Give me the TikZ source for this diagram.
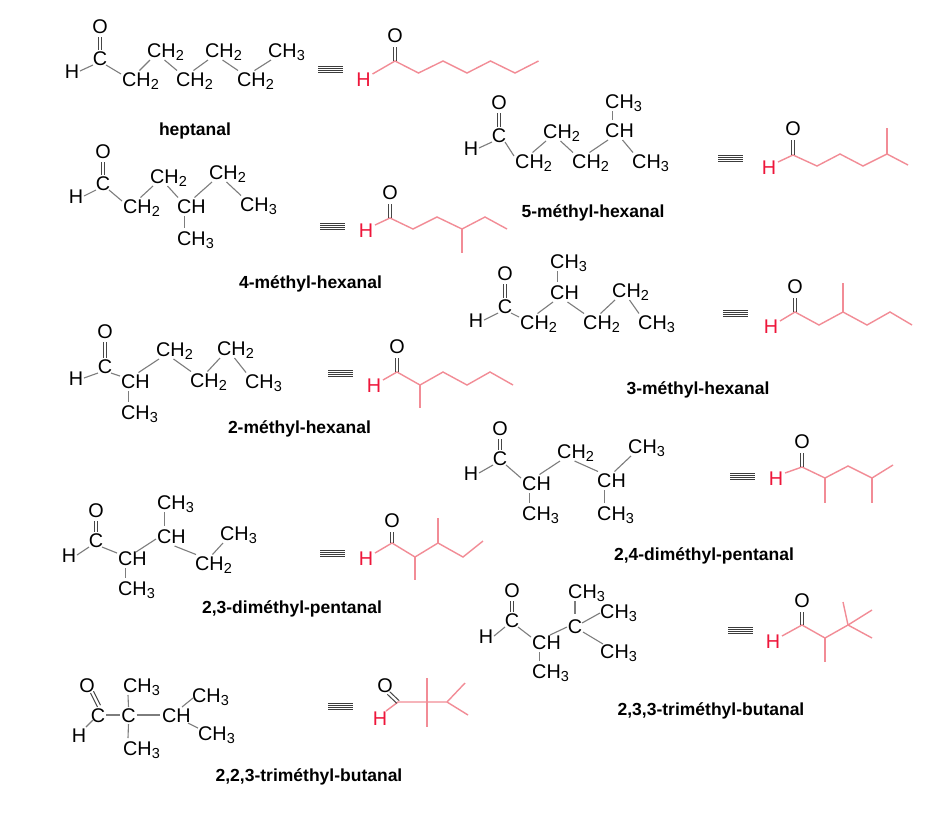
\documentclass[tikz,border=0pt]{standalone}
\usepackage{fontspec}
\setmainfont{Liberation Sans}
\usetikzlibrary{calc}
\definecolor{bondgray}{RGB}{125,125,125}
\definecolor{dblgray}{RGB}{70,70,70}
\definecolor{skelred}{RGB}{242,140,150}
\definecolor{hredc}{RGB}{238,22,58}
\definecolor{eqgray}{RGB}{60,60,60}
\newcommand\chsub[1]{\raisebox{-3.5pt}{\fontsize{14.5}{14.5}\selectfont #1}}
\newcommand\CHii{CH\chsub{2}}
\newcommand\CHiii{CH\chsub{3}}
\newcommand\chemfont{\fontsize{19.8}{21}\selectfont}
\newcommand\namefont{\fontsize{17.5}{20}\selectfont\bfseries}
\tikzset{
  bond/.style={draw=bondgray, line width=1.1pt},
  dbl/.style={draw=dblgray, line width=1pt},
  skel/.style={draw=skelred, line width=1.4pt, line join=miter},
  eqline/.style={draw=eqgray, line width=0.9pt},
  atom/.style={inner sep=0pt, anchor=base, font=\chemfont},
  lbl/.style={inner sep=0pt, anchor=base west, font=\chemfont},
  redH/.style={inner sep=0pt, anchor=base, font=\chemfont, text=hredc},
  cname/.style={inner sep=0pt, anchor=base, font=\namefont},
}
\newcommand\bnd[6]{\draw[bond] ($(#1)+(#2,#3)$) -- ($(#4)+(#5,#6)$);}
\newcommand\bup[2]{\bnd{#1.base west}{17.5}{-15.5}{#2.base west}{3}{3}}
\newcommand\bdn[2]{\bnd{#1.base west}{17.5}{3}{#2.base west}{1}{-15.5}}
\newcommand\bvd[2]{\bnd{#1.base west}{7.3}{3}{#2.base west}{7.3}{-17}}
\newcommand\bca[2]{\bnd{#1.base}{6}{0}{#2.base west}{-1}{-12}}
\newcommand\aldehyde[6]{%
  \node[atom] (#1O) at (#2,#3) {O};
  \node[atom] (#1C) at (#2,#4) {C};
  \node[atom] (#1H) at (#5,#6) {H};
  \draw[dbl] ($(#1O.base)+(-1.8,4)$) -- ($(#1C.base)+(-1.8,-15.5)$);
  \draw[dbl] ($(#1O.base)+(1.8,4)$) -- ($(#1C.base)+(1.8,-15.5)$);
  \bnd{#1H.base}{8}{-7}{#1C.base}{-7}{0}}
\newcommand\skdbl[2]{%
  \draw[dbl] ($(#1.base)+(-1.8,5)$) -- ($(#2)+(-1.8,0)$);
  \draw[dbl] ($(#1.base)+(1.8,5)$) -- ($(#2)+(1.8,0)$);}
\newcommand\eqv[2]{\foreach \k in {0,1,2,3} {\draw[eqline] (#1,#2+\k*2.25) -- ++(25,0);}}
\begin{document}
\begin{tikzpicture}[x=1pt,y=-1pt]
\fill[white] (0,0) rectangle (945,815);
\useasboundingbox (0,0) rectangle (945,815);

% ---------- 1 heptanal
\aldehyde{a}{100}{33}{65}{72}{78}
\node[lbl] (a1) at (122,86) {\CHii};
\node[lbl] (a2) at (147,57) {\CHii};
\node[lbl] (a3) at (176,86) {\CHii};
\node[lbl] (a4) at (205,57) {\CHii};
\node[lbl] (a5) at (237,86) {\CHii};
\node[lbl] (a6) at (268,57) {\CHiii};
\bca{aC}{a1}\bup{a1}{a2}\bdn{a2}{a3}\bup{a3}{a4}\bdn{a4}{a5}\bup{a5}{a6}
\eqv{318}{66}
\node[redH] (s1H) at (363.5,86) {H};
\node[atom] (s1O) at (395,42) {O};
\coordinate (s1a) at (395,61); \coordinate (s1b) at (418.5,73);
\coordinate (s1c) at (443,61); \coordinate (s1d) at (467,73);
\coordinate (s1e) at (490.5,61); \coordinate (s1f) at (515,73);
\coordinate (s1g) at (538.5,61);
\draw[skel] ($(s1H.base)+(9,-12)$) -- (s1a) -- (s1b) -- (s1c) -- (s1d) -- (s1e) -- (s1f) -- (s1g);
\skdbl{s1O}{s1a}
\node[cname] (n1) at (195,135) {heptanal};

% ---------- 2 4-methyl-hexanal
\aldehyde{b}{103}{158}{190}{76}{203}
\node[lbl] (b1) at (123,213) {\CHii};
\node[lbl] (b2) at (150,183) {\CHii};
\node[lbl] (b3) at (177,213) {CH};
\node[lbl] (b4) at (177,245) {\CHiii};
\node[lbl] (b5) at (209,179) {\CHii};
\node[lbl] (b6) at (240,211) {\CHiii};
\bca{bC}{b1}\bup{b1}{b2}\bdn{b2}{b3}\bvd{b3}{b4}\bup{b3}{b5}\bdn{b5}{b6}
\eqv{320}{223}
\node[redH] (s2H) at (366,237) {H};
\node[atom] (s2O) at (390,199) {O};
\coordinate (s2a) at (390,218); \coordinate (s2b) at (413,229);
\coordinate (s2c) at (437,217); \coordinate (s2d) at (462,229);
\coordinate (s2e) at (485,217); \coordinate (s2f) at (507,229);
\coordinate (s2m) at (462,253);
\draw[skel] ($(s2H.base)+(9,-12)$) -- (s2a) -- (s2b) -- (s2c) -- (s2d) -- (s2e) -- (s2f);
\draw[skel] (s2d) -- (s2m);
\skdbl{s2O}{s2a}
\node[cname] (n2) at (310.5,288) {4-méthyl-hexanal};

% ---------- 3 5-methyl-hexanal
\aldehyde{c}{499}{109}{142}{471}{155}
\node[lbl] (c1) at (515,168) {\CHii};
\node[lbl] (c2) at (543,138) {\CHii};
\node[lbl] (c3) at (572,168) {\CHii};
\node[lbl] (c4) at (605,137) {CH};
\node[lbl] (c5) at (605,108) {\CHiii};
\node[lbl] (c6) at (632,168) {\CHiii};
\bca{cC}{c1}\bup{c1}{c2}\bdn{c2}{c3}\bup{c3}{c4}\bvd{c5}{c4}\bdn{c4}{c6}
\eqv{718}{155}
\node[redH] (s3H) at (769,174) {H};
\node[atom] (s3O) at (793,135) {O};
\coordinate (s3a) at (793,155); \coordinate (s3b) at (817,166);
\coordinate (s3c) at (840,154); \coordinate (s3d) at (863,166);
\coordinate (s3e) at (887,154); \coordinate (s3f) at (908,165);
\coordinate (s3m) at (887,128);
\draw[skel] ($(s3H.base)+(9,-12)$) -- (s3a) -- (s3b) -- (s3c) -- (s3d) -- (s3e) -- (s3f);
\draw[skel] (s3e) -- (s3m);
\skdbl{s3O}{s3a}
\node[cname] (n3) at (593,217) {5-méthyl-hexanal};

% ---------- 4 3-methyl-hexanal
\aldehyde{d}{505}{280}{313}{476}{327}
\node[lbl] (d1) at (520,329) {\CHii};
\node[lbl] (d2) at (550,299) {CH};
\node[lbl] (d3) at (550,268) {\CHiii};
\node[lbl] (d4) at (583,329) {\CHii};
\node[lbl] (d5) at (612,297) {\CHii};
\node[lbl] (d6) at (638,329) {\CHiii};
\bca{dC}{d1}\bup{d1}{d2}\bvd{d3}{d2}\bdn{d2}{d4}\bup{d4}{d5}\bdn{d5}{d6}
\eqv{723}{310}
\node[redH] (s4H) at (771,333) {H};
\node[atom] (s4O) at (795,293) {O};
\coordinate (s4a) at (795,312); \coordinate (s4b) at (819,325);
\coordinate (s4c) at (843,312); \coordinate (s4d) at (867,325);
\coordinate (s4e) at (890,312); \coordinate (s4f) at (912,325);
\coordinate (s4m) at (843,283);
\draw[skel] ($(s4H.base)+(9,-12)$) -- (s4a) -- (s4b) -- (s4c) -- (s4d) -- (s4e) -- (s4f);
\draw[skel] (s4c) -- (s4m);
\skdbl{s4O}{s4a}
\node[cname] (n4) at (698,394) {3-méthyl-hexanal};

% ---------- 5 2-methyl-hexanal
\aldehyde{e}{105}{338}{373}{76}{385}
\node[lbl] (e1) at (121,388) {CH};
\node[lbl] (e2) at (121,419) {\CHiii};
\node[lbl] (e3) at (156,356) {\CHii};
\node[lbl] (e4) at (190,387) {\CHii};
\node[lbl] (e5) at (217,355) {\CHii};
\node[lbl] (e6) at (245,388) {\CHiii};
\bca{eC}{e1}\bvd{e1}{e2}\bup{e1}{e3}\bdn{e3}{e4}\bup{e4}{e5}\bdn{e5}{e6}
\eqv{328}{370}
\node[redH] (s5H) at (374,392) {H};
\node[atom] (s5O) at (397,353) {O};
\coordinate (s5a) at (397,372); \coordinate (s5b) at (420,385);
\coordinate (s5c) at (443,372); \coordinate (s5d) at (467,385);
\coordinate (s5e) at (490,372); \coordinate (s5f) at (513,385);
\coordinate (s5m) at (420,408);
\draw[skel] ($(s5H.base)+(9,-12)$) -- (s5a) -- (s5b) -- (s5c) -- (s5d) -- (s5e) -- (s5f);
\draw[skel] (s5b) -- (s5m);
\skdbl{s5O}{s5a}
\node[cname] (n5) at (299.5,433) {2-méthyl-hexanal};

% ---------- 6 2,4-dimethyl-pentanal
\aldehyde{f}{500}{435}{465}{471}{480}
\node[lbl] (f1) at (522,490) {CH};
\node[lbl] (f2) at (522,520) {\CHiii};
\node[lbl] (f3) at (557,458) {\CHii};
\node[lbl] (f4) at (597,487) {CH};
\node[lbl] (f5) at (597,520) {\CHiii};
\node[lbl] (f6) at (628,453) {\CHiii};
\bca{fC}{f1}\bvd{f1}{f2}\bup{f1}{f3}\bdn{f3}{f4}\bvd{f4}{f5}\bup{f4}{f6}
\eqv{730}{473}
\node[redH] (s6H) at (776,485) {H};
\node[atom] (s6O) at (802,448) {O};
\coordinate (s6a) at (802,467); \coordinate (s6b) at (825,478);
\coordinate (s6c) at (848,466); \coordinate (s6d) at (872,478);
\coordinate (s6e) at (893,465);
\coordinate (s6m) at (825,503); \coordinate (s6n) at (872,503);
\draw[skel] ($(s6H.base)+(9,-12)$) -- (s6a) -- (s6b) -- (s6c) -- (s6d) -- (s6e);
\draw[skel] (s6b) -- (s6m);
\draw[skel] (s6d) -- (s6n);
\skdbl{s6O}{s6a}
\node[cname] (n6) at (704,560) {2,4-diméthyl-pentanal};

% ---------- 7 2,3-dimethyl-pentanal
\aldehyde{g}{96}{517}{547}{69}{562}
\node[lbl] (g1) at (118,565) {CH};
\node[lbl] (g2) at (118,595) {\CHiii};
\node[lbl] (g3) at (157,543) {CH};
\node[lbl] (g4) at (157,509) {\CHiii};
\node[lbl] (g5) at (195,570) {\CHii};
\node[lbl] (g6) at (220,540) {\CHiii};
\bca{gC}{g1}\bvd{g1}{g2}
\bnd{g1.base west}{18}{-13}{g3.base west}{-1}{-4}
\bvd{g4}{g3}\bdn{g3}{g5}\bup{g5}{g6}
\eqv{320}{550}
\node[redH] (s7H) at (366,565) {H};
\node[atom] (s7O) at (392,527) {O};
\coordinate (s7a) at (392,543); \coordinate (s7b) at (415,557);
\coordinate (s7c) at (438,543); \coordinate (s7d) at (463,557);
\coordinate (s7e) at (483,541);
\coordinate (s7m) at (415,580); \coordinate (s7n) at (438,518);
\draw[skel] ($(s7H.base)+(9,-12)$) -- (s7a) -- (s7b) -- (s7c) -- (s7d) -- (s7e);
\draw[skel] (s7b) -- (s7m);
\draw[skel] (s7c) -- (s7n);
\skdbl{s7O}{s7a}
\node[cname] (n7) at (292,613) {2,3-diméthyl-pentanal};

% ---------- 8 2,3,3-trimethyl-butanal
\aldehyde{h}{512}{597}{627}{486}{643}
\node[lbl] (h1) at (532,649) {CH};
\node[lbl] (h2) at (532,678) {\CHiii};
\node[atom] (h3) at (575,633) {C};
\node[lbl] (h4) at (568,598) {\CHiii};
\node[lbl] (h5) at (600,618) {\CHiii};
\node[lbl] (h6) at (600,658) {\CHiii};
\bca{hC}{h1}\bvd{h1}{h2}
\bnd{h1.base west}{18}{-14}{h3.base}{-8}{-6}
\bnd{h4.base west}{7}{3}{h3.base}{0}{-19}
\bnd{h3.base}{7}{-10}{h5.base west}{0}{-5}
\bnd{h3.base}{8}{-1}{h6.base west}{3}{-14}
\eqv{728}{627}
\node[redH] (s8H) at (773,648) {H};
\node[atom] (s8O) at (802,607) {O};
\coordinate (s8a) at (802,625); \coordinate (s8b) at (825,638);
\coordinate (s8c) at (848,625);
\coordinate (s8m) at (825,662); \coordinate (s8n) at (843,602);
\coordinate (s8p) at (872,610); \coordinate (s8q) at (872,638);
\draw[skel] ($(s8H.base)+(9,-12)$) -- (s8a) -- (s8b) -- (s8c);
\draw[skel] (s8b) -- (s8m);
\draw[skel] (s8c) -- (s8n);
\draw[skel] (s8c) -- (s8p);
\draw[skel] (s8c) -- (s8q);
\skdbl{s8O}{s8a}
\node[cname] (n8) at (711,715) {2,3,3-triméthyl-butanal};

% ---------- 9 2,2,3-trimethyl-butanal
\node[atom] (iO) at (87,692) {O};
\node[atom] (iC) at (98,722) {C};
\node[atom] (iH) at (79,742) {H};
\node[atom] (iC2) at (128.5,722) {C};
\node[lbl] (i1) at (123,692) {\CHiii};
\node[lbl] (i2) at (123,755) {\CHiii};
\node[lbl] (i3) at (162,722) {CH};
\node[lbl] (i4) at (192,702) {\CHiii};
\node[lbl] (i5) at (198,740) {\CHiii};
\draw[dbl] ($(iO.base)+(3.5,1)$) -- ($(iC.base)+(-0.5,-15)$);
\draw[dbl] ($(iO.base)+(6.5,-0.8)$) -- ($(iC.base)+(2.5,-16.8)$);
\bnd{iH.base}{7}{-15}{iC.base}{-5}{-2}
\bnd{iC.base}{8}{-7}{iC2.base}{-9}{-7}
\bnd{iC2.base}{8}{-7}{i3.base west}{-2}{-7}
\bnd{i1.base west}{5}{3}{iC2.base}{0}{-15}
\bnd{iC2.base}{0}{2}{i2.base west}{5}{-17}
\bnd{i3.base west}{20}{-15}{i4.base west}{1}{-4}
\bnd{i3.base west}{26}{1}{i5.base west}{0}{-12}
\eqv{328}{703}
\node[redH] (s9H) at (380,725) {H};
\node[atom] (s9O) at (385,692) {O};
\coordinate (s9a) at (398,702); \coordinate (s9b) at (427,702);
\coordinate (s9u) at (427,678); \coordinate (s9d) at (427,727);
\coordinate (s9c) at (447,702);
\coordinate (s9p) at (465,683); \coordinate (s9q) at (468,715);
\draw[skel] ($(s9H.base)+(6,-14)$) -- (s9a) -- (s9b) -- (s9c) -- (s9p);
\draw[skel] (s9c) -- (s9q);
\draw[skel] (s9u) -- (s9d);
\draw[dbl] ($(s9O.base)+(2.3,2.3)$) -- ($(s9a)+(-1.2,1.3)$);
\draw[dbl] ($(s9O.base)+(4.7,-0.3)$) -- ($(s9a)+(1.2,-1.3)$);
\node[cname] (n9) at (309,781) {2,2,3-triméthyl-butanal};
\end{tikzpicture}
\end{document}
